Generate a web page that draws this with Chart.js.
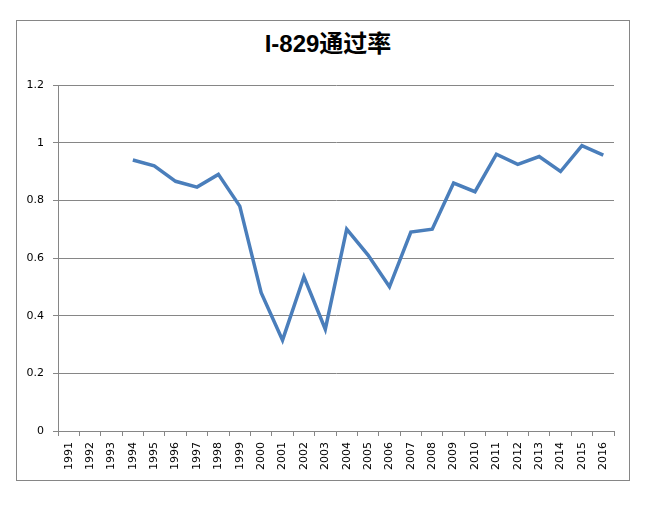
<!DOCTYPE html>
<html>
<head>
<meta charset="utf-8">
<script src="https://cdn.jsdelivr.net/npm/chart.js@4"></script>
<style>
  body { margin: 0; background: #fff; }
  #frame { position: absolute; left: 16px; top: 20px; width: 612px; height: 459px; border: 1px solid #868686; }
  #wrap { position: absolute; left: 0; top: 0; width: 650px; height: 511px; }
  #title { position: absolute; left: 0; width: 656px; top: 24px; line-height: 30px; text-align: center;
    font: bold 24px 'Liberation Sans', 'Noto Sans CJK SC', sans-serif; color: #000; }
</style>
</head>
<body>
<div id="frame"></div>
<div id="title">I-829通过率</div>
<div id="wrap"><canvas id="rateChart"></canvas></div>
<script>
const years = ['1991','1992','1993','1994','1995','1996','1997','1998','1999','2000','2001','2002','2003',
  '2004','2005','2006','2007','2008','2009','2010','2011','2012','2013','2014','2015','2016'];
const passRate = [null, null, null, 0.94, 0.92, 0.866, 0.846, 0.89, 0.78, 0.48, 0.315, 0.535, 0.353,
  0.70, 0.61, 0.50, 0.69, 0.70, 0.86, 0.83, 0.96, 0.925, 0.952, 0.90, 0.99, 0.957];
const yTicks = [0, 0.2, 0.4, 0.6, 0.8, 1, 1.2];

const gridGray = '#868686';
const tickFont = { family: "'DejaVu Sans', Verdana, sans-serif", size: 11 };

new Chart(document.getElementById('rateChart'), {
  type: 'line',
  data: {
    labels: years,
    datasets: [{
      label: 'I-829通过率',
      data: passRate,
      borderColor: '#4a7ebb',
      borderWidth: 3.5,
      pointRadius: 0,
      tension: 0,
      spanGaps: false
    }]
  },
  options: {
    responsive: true,
    maintainAspectRatio: false,
    animation: false,
    layout: { padding: { left: 0, right: 36, top: 85, bottom: 20 } },
    plugins: {
      legend: { display: false },
      tooltip: { enabled: false },
      title: { display: false }
    },
    scales: {
      x: {
        offset: true,
        grid: { offset: true, drawOnChartArea: false, drawTicks: true, tickLength: 5, color: gridGray },
        border: { color: gridGray, width: 1 },
        ticks: { color: '#000', font: tickFont, maxRotation: 90, minRotation: 90, autoSkip: false, padding: 6 },
        afterFit: s => { s.height = 60; }
      },
      y: {
        min: 0,
        max: 1.2,
        afterBuildTicks: s => { s.ticks = yTicks.map(v => ({ value: v })); },
        grid: { color: gridGray, tickLength: 5 },
        border: { color: gridGray, width: 1 },
        ticks: { color: '#000', font: tickFont, padding: 9, callback: v => String(v) },
        afterFit: s => { s.width = 58; }
      }
    }
  }
});
</script>
</body>
</html>
